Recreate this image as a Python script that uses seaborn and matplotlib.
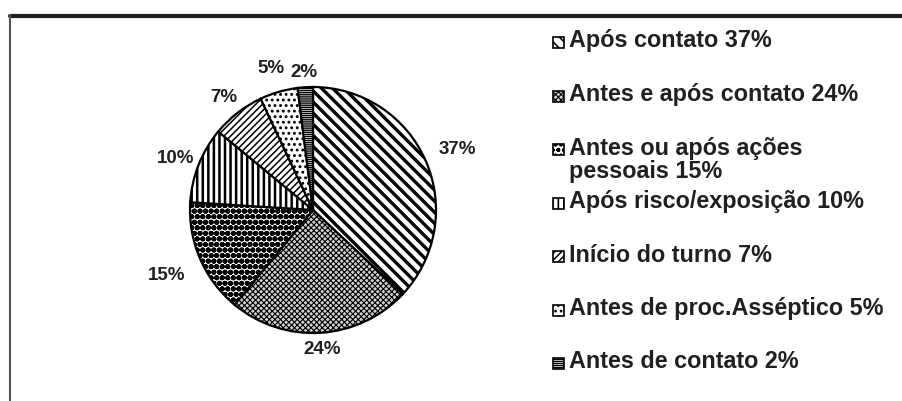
import matplotlib
matplotlib.use("Agg")
import matplotlib.pyplot as plt
import seaborn as sns
from matplotlib.lines import Line2D
from matplotlib.patches import Rectangle

# data
categories = [
    "Após contato",
    "Antes e após contato",
    "Antes ou após ações\npessoais",
    "Após risco/exposição",
    "Início do turno",
    "Antes de proc.Asséptico",
    "Antes de contato",
]
shares = [37, 24, 15, 10, 7, 5, 2]

# one hatch per slice (black & white print style)
hatches = ["\\\\\\", "xxxxxx", "ooo", "|||", "/////", "...", "--------"]
hatch_widths = [2.4, 0.8, 2.0, 1.8, 1.1, 1.3, 1.0]
faces = ["white", "#d0d0d0", "white", "white", "white", "white", "white"]
label_dist = [1.28, 1.12, 1.3, 1.2, 1.18, 1.22, 1.14]

sns.set_theme(style="white")
plt.rcParams["font.family"] = ["Liberation Sans", "DejaVu Sans"]
plt.rcParams["font.weight"] = "bold"

fig = plt.figure(figsize=(9.03, 4.01), dpi=100)
W, H = 903, 401

# pie: centre (313, 210) px, radius 123 px
cx, cy, r = 313, 210, 123
ax = fig.add_axes([(cx - r) / W, (H - cy - r) / H, 2 * r / W, 2 * r / H])

wedges, texts, autotexts = ax.pie(
    shares,
    startangle=90,
    counterclock=False,
    colors=faces,
    autopct=lambda p: f"{p:.0f}%",
    pctdistance=1.0,
    wedgeprops=dict(edgecolor="black", linewidth=1.6),
    textprops=dict(fontsize=13.5, fontweight="bold", color="#231f20"),
)
for w, h, lw in zip(wedges, hatches, hatch_widths):
    w.set_hatch(h)
    if hasattr(w, "set_hatch_linewidth"):
        w.set_hatch_linewidth(lw)
for t, d in zip(autotexts, label_dist):
    x, y = t.get_position()
    t.set_position((x * d, y * d - 0.02))
ax.set_xlim(-1, 1)
ax.set_ylim(-1, 1)
ax.axis("off")

# legend drawn by hand so the two-line entry keeps the same row step
y0, step = 42, 53.5
for i, (cat, val) in enumerate(zip(categories, shares)):
    y = y0 + i * step
    box = Rectangle((553 / W, (H - y - 6) / H), 11 / W, 11 / H,
                    transform=fig.transFigure, facecolor=faces[i],
                    edgecolor="black", linewidth=1.2, hatch=hatches[i])
    if hasattr(box, "set_hatch_linewidth"):
        box.set_hatch_linewidth(min(hatch_widths[i], 1.2))
    fig.add_artist(box)
    fig.text(569 / W, (H - y + 12.5) / H, f"{cat} {val}%", ha="left", va="top",
             fontsize=16.8, fontweight="bold", color="#231f20", linespacing=1.05)

# frame lines of the original slide
fig.add_artist(Line2D([10 / W, 1], [(H - 15.5) / H] * 2, color="#231f20",
                      linewidth=3, transform=fig.transFigure))
fig.add_artist(Line2D([10.5 / W] * 2, [0, (H - 15) / H], color="#555555",
                      linewidth=1.5, transform=fig.transFigure))

fig.savefig("out.png", dpi=100, facecolor="white")
